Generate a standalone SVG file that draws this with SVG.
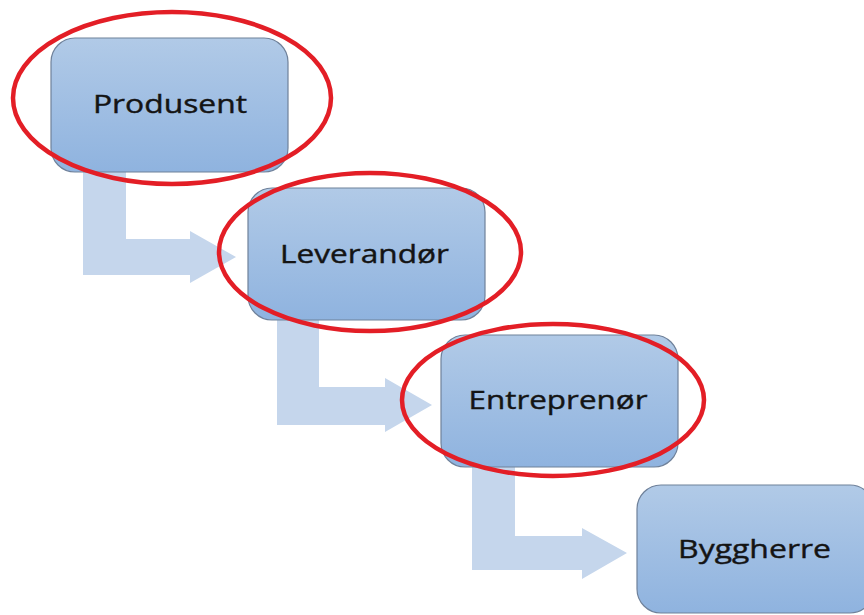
<svg xmlns="http://www.w3.org/2000/svg" width="864" height="615" viewBox="0 0 864 615">
  <defs>
    <linearGradient id="boxGrad" x1="0" y1="0" x2="0" y2="1">
      <stop offset="0" stop-color="#b1cae7"/>
      <stop offset="1" stop-color="#8fb3df"/>
    </linearGradient>
    <style>
      .box { fill: url(#boxGrad); stroke: #6f819a; stroke-width: 1.2; }
      .arrow { fill: #c5d6ec; stroke: none; }
      .ring { fill: none; stroke: #e31e26; stroke-width: 4.5; }
      .label { font-family: "Open Sans", "Noto Sans", "DejaVu Sans", sans-serif; font-size: 25px; fill: #141414; stroke: #141414; stroke-width: 0.4; text-anchor: middle; }
    </style>
  </defs>
  <rect width="864" height="615" fill="#ffffff"/>
  <g id="connectors">
    <polygon class="arrow" points="83,170 126,170 126,239 190,239 190,231 236,257 190,283 190,275 83,275"/>
    <polygon class="arrow" points="277,318 319,318 319,387 385,387 385,378 432,405 385,432 385,425 277,425"/>
    <polygon class="arrow" points="472,465 515,465 515,536 582,536 582,528 627,553 582,579 582,570 472,570"/>
  </g>
  <g id="node-produsent">
    <rect class="box" x="51" y="38" width="237" height="134" rx="24" ry="24"/>
    <text class="label" x="170" y="113" textLength="154" lengthAdjust="spacingAndGlyphs">Produsent</text>
  </g>
  <g id="node-leverandor">
    <rect class="box" x="248" y="188" width="237" height="132" rx="24" ry="24"/>
    <text class="label" x="364.5" y="263" textLength="169" lengthAdjust="spacingAndGlyphs">Leverandør</text>
  </g>
  <g id="node-entreprenor">
    <rect class="box" x="441" y="335" width="237" height="132" rx="24" ry="24"/>
    <text class="label" x="558" y="409" textLength="179" lengthAdjust="spacingAndGlyphs">Entreprenør</text>
  </g>
  <g id="node-byggherre">
    <rect class="box" x="637" y="485" width="237" height="128" rx="24" ry="24"/>
    <text class="label" x="754.5" y="558" textLength="153" lengthAdjust="spacingAndGlyphs">Byggherre</text>
  </g>
  <g id="highlights">
    <ellipse class="ring" cx="172" cy="98" rx="159" ry="86"/>
    <ellipse class="ring" cx="370" cy="252" rx="151" ry="79"/>
    <ellipse class="ring" cx="553" cy="400" rx="151" ry="76"/>
  </g>
</svg>
